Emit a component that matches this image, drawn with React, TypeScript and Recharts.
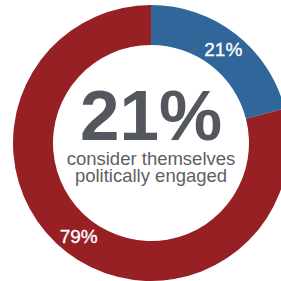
import React from "react";
import { PieChart, Pie, Cell } from "recharts";

const categories = ["Politically engaged", "Not politically engaged"];
const values = [21, 79];
const valueLabels = ["21%", "79%"];
const colors = ["#31669a", "#962024"];
const headline = "21%";
const subtitleLines = ["consider themselves", "politically engaged"];

const data = categories.map((name, i) => ({ name, value: values[i], label: valueLabels[i] }));

const CX = 151;
const CY = 143;
const FONT = "'Liberation Sans', Arial, sans-serif";
const RADIAN = Math.PI / 180;

const renderLabel = (props: any) => {
  const { cx, cy, midAngle, innerRadius, outerRadius, index } = props;
  const r = (innerRadius + outerRadius) / 2;
  const x = cx + r * Math.cos(-midAngle * RADIAN);
  const y = cy + r * Math.sin(-midAngle * RADIAN);
  return (
    <text
      x={x}
      y={y}
      fill="#ffffff"
      stroke="#ffffff"
      strokeWidth={0.35}
      textAnchor="middle"
      dominantBaseline="central"
      fontFamily={FONT}
      fontSize={19}
    >
      {data[index].label}
    </text>
  );
};

export default function App() {
  return (
    <div style={{ position: "absolute", left: 0, top: 0, width: 281, height: 281, background: "#ffffff" }}>
      <PieChart width={281} height={281} margin={{ top: 0, right: 0, bottom: 0, left: 0 }}>
        <Pie
          data={data}
          dataKey="value"
          nameKey="name"
          cx={CX}
          cy={CY}
          innerRadius={98}
          outerRadius={138}
          startAngle={90}
          endAngle={-270}
          stroke="none"
          label={renderLabel}
          labelLine={false}
          isAnimationActive={false}
        >
          {data.map((d, i) => (
            <Cell key={d.name} fill={colors[i]} />
          ))}
        </Pie>
      </PieChart>
      <svg width={281} height={281} style={{ position: "absolute", left: 0, top: 0, pointerEvents: "none" }}>
        <text x={CX} y={CY - 3} textAnchor="middle" fill="#54585e" fontFamily={FONT} fontWeight={700} fontSize={71}>
          {headline}
        </text>
        <text x={CX} y={CY + 22} textAnchor="middle" fill="#5c6066" fontFamily={FONT} fontSize={18.5}>
          {subtitleLines[0]}
        </text>
        <text x={CX} y={CY + 39} textAnchor="middle" fill="#5c6066" fontFamily={FONT} fontSize={18.5}>
          {subtitleLines[1]}
        </text>
      </svg>
    </div>
  );
}
